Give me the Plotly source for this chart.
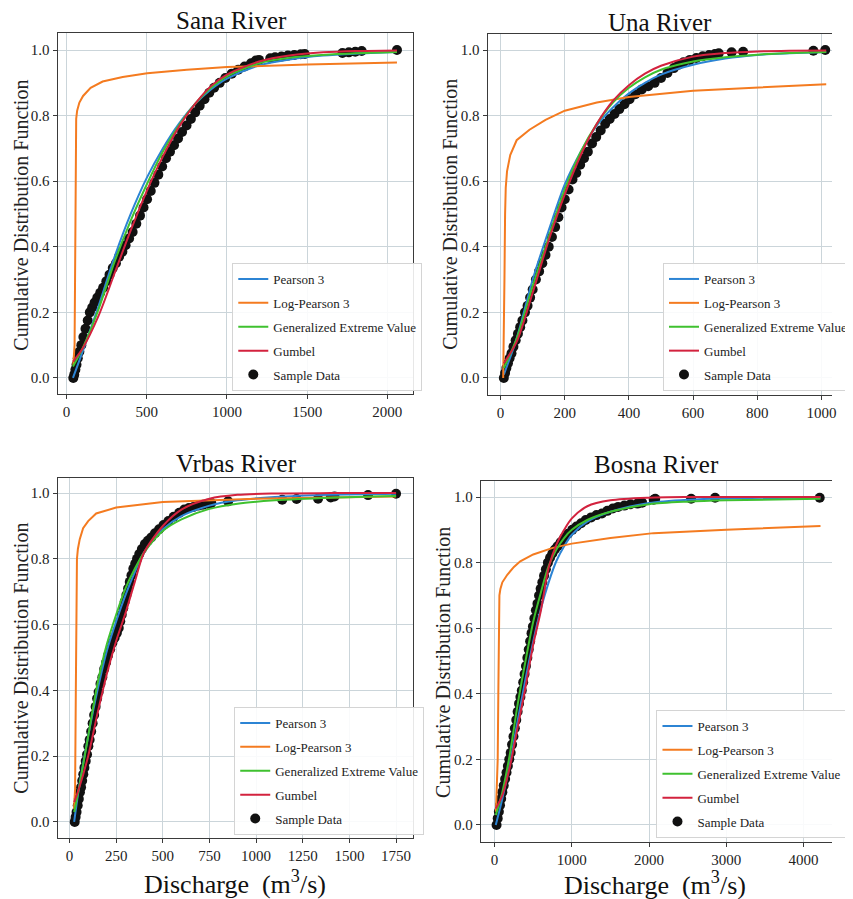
import plotly.graph_objects as go

# ---------------- Sana River ----------------
sana_data_x = [42, 48, 55, 62, 70, 80, 92, 105, 118, 132, 145, 160, 175, 192, 210, 228, 248, 268, 288, 308,
               328, 348, 368, 390, 412, 435, 458, 480, 502, 525, 548, 572, 596, 620, 645, 670, 695, 720, 748, 775,
               802, 830, 860, 890, 920, 955, 990, 1030, 1070, 1110, 1150, 1180, 1200, 1270, 1300, 1340, 1380, 1420,
               1460, 1485, 1720, 1760, 1800, 1840, 2060]
sana_data_y = [0.0, 0.01, 0.025, 0.04, 0.06, 0.08, 0.1, 0.125, 0.15, 0.175, 0.2, 0.215, 0.23, 0.245, 0.26, 0.275,
               0.295, 0.315, 0.335, 0.35, 0.37, 0.385, 0.405, 0.425, 0.445, 0.47, 0.495, 0.52, 0.545, 0.57, 0.595,
               0.62, 0.645, 0.67, 0.69, 0.71, 0.73, 0.75, 0.77, 0.79, 0.81, 0.83, 0.85, 0.87, 0.885, 0.9, 0.915,
               0.928, 0.94, 0.95, 0.96, 0.968, 0.97, 0.975, 0.978, 0.98, 0.983, 0.985, 0.987, 0.988, 0.991, 0.993,
               0.995, 0.997, 1.0]
sana_curve_x = [40, 100, 200, 300, 400, 500, 600, 700, 800, 900, 1000, 1200, 1400, 1600, 1800, 2060]
sana_p3 = [0.0, 0.08, 0.22, 0.37, 0.5, 0.61, 0.7, 0.775, 0.835, 0.88, 0.913, 0.953, 0.972, 0.983, 0.989, 0.994]
sana_gev = [0.035, 0.09, 0.21, 0.355, 0.48, 0.59, 0.69, 0.77, 0.835, 0.885, 0.92, 0.96, 0.977, 0.985, 0.99, 0.994]
sana_gum = [0.05, 0.09, 0.19, 0.32, 0.45, 0.57, 0.675, 0.765, 0.835, 0.89, 0.925, 0.965, 0.984, 0.993, 0.997, 0.999]
sana_lp3_x = [42, 50, 53, 55, 57, 60, 66, 80, 103, 150, 225, 350, 503, 750, 1000, 1500, 2060]
sana_lp3 = [0.04, 0.1, 0.3, 0.6, 0.76, 0.79, 0.815, 0.84, 0.86, 0.885, 0.904, 0.918, 0.929, 0.94, 0.948, 0.956, 0.962]

# ---------------- Una River ----------------
una_data_x = [10, 14, 18, 23, 28, 34, 40, 47, 54, 61, 68, 76, 84, 92, 100, 110, 120, 130, 140, 150, 160, 170, 180,
              190, 200, 212, 224, 236, 248, 260, 272, 285, 298, 312, 326, 340, 355, 370, 386, 402, 420, 440, 460,
              480, 500, 520, 540, 555, 570, 590, 610, 630, 650, 668, 680, 720, 756, 975, 1012]
una_data_y = [0.0, 0.015, 0.03, 0.045, 0.06, 0.075, 0.095, 0.115, 0.135, 0.155, 0.175, 0.2, 0.22, 0.245, 0.27, 0.3,
              0.325, 0.35, 0.375, 0.4, 0.43, 0.46, 0.49, 0.52, 0.545, 0.575, 0.605, 0.625, 0.65, 0.67, 0.69, 0.715,
              0.735, 0.755, 0.775, 0.79, 0.805, 0.82, 0.835, 0.85, 0.865, 0.88, 0.89, 0.9, 0.915, 0.93, 0.945, 0.955,
              0.963, 0.97, 0.976, 0.981, 0.985, 0.988, 0.99, 0.993, 0.995, 0.998, 1.0]
una_curve_x = [10, 50, 100, 150, 200, 250, 300, 350, 400, 450, 500, 600, 700, 800, 900, 1015]
una_p3 = [0.01, 0.12, 0.3, 0.45, 0.59, 0.69, 0.77, 0.825, 0.868, 0.9, 0.925, 0.955, 0.974, 0.985, 0.99, 0.994]
una_gev = [0.03, 0.12, 0.28, 0.43, 0.575, 0.69, 0.775, 0.84, 0.885, 0.917, 0.94, 0.965, 0.978, 0.986, 0.991, 0.994]
una_gum = [0.045, 0.11, 0.26, 0.42, 0.56, 0.68, 0.775, 0.845, 0.893, 0.928, 0.952, 0.98, 0.991, 0.996, 0.998, 0.999]
una_lp3_x = [8, 10, 12, 14, 16, 20, 30, 50, 90, 140, 200, 300, 400, 600, 800, 1015]
una_lp3 = [0.0, 0.1, 0.3, 0.5, 0.58, 0.63, 0.68, 0.725, 0.757, 0.787, 0.815, 0.84, 0.857, 0.876, 0.886, 0.896]

# ---------------- Vrbas River ----------------
vrbas_data_x = [28, 33, 38, 44, 50, 56, 62, 68, 74, 80, 87, 94, 101, 108, 116, 124, 132, 140, 148, 156, 166, 176,
                186, 196, 206, 218, 230, 242, 254, 264, 272, 280, 288, 296, 305, 314, 323, 332, 342, 352, 362, 374,
                388, 404, 420, 438, 458, 480, 504, 530, 558, 588, 615, 640, 665, 690, 715, 740, 760, 850, 1140,
                1217, 1332, 1400, 1420, 1600, 1750]
vrbas_data_y = [0.0, 0.015, 0.03, 0.05, 0.07, 0.09, 0.105, 0.125, 0.145, 0.165, 0.185, 0.205, 0.23, 0.25, 0.275,
                0.3, 0.325, 0.35, 0.375, 0.395, 0.42, 0.44, 0.465, 0.485, 0.505, 0.525, 0.545, 0.56, 0.575, 0.59,
                0.61, 0.63, 0.65, 0.67, 0.69, 0.71, 0.73, 0.75, 0.77, 0.785, 0.8, 0.815, 0.83, 0.845, 0.855, 0.865,
                0.878, 0.89, 0.903, 0.915, 0.928, 0.94, 0.95, 0.955, 0.958, 0.962, 0.965, 0.968, 0.97, 0.975, 0.98,
                0.982, 0.983, 0.987, 0.99, 0.994, 0.998]
vrbas_curve_x = [25, 50, 100, 150, 200, 250, 300, 350, 400, 500, 600, 750, 900, 1100, 1400, 1750]
vrbas_p3 = [0.0, 0.1, 0.26, 0.4, 0.52, 0.61, 0.69, 0.76, 0.82, 0.89, 0.93, 0.962, 0.978, 0.988, 0.995, 0.998]
vrbas_gev = [0.03, 0.1, 0.26, 0.42, 0.54, 0.63, 0.71, 0.77, 0.82, 0.885, 0.92, 0.952, 0.968, 0.978, 0.986, 0.991]
vrbas_gum = [0.06, 0.1, 0.2, 0.33, 0.45, 0.55, 0.635, 0.73, 0.82, 0.9, 0.95, 0.983, 0.995, 0.999, 1.0, 1.0]
vrbas_lp3_x = [24, 30, 34, 37, 40, 45, 55, 73, 100, 143, 250, 500, 750, 1000, 1400, 1750]
vrbas_lp3 = [0.04, 0.1, 0.4, 0.7, 0.8, 0.83, 0.86, 0.893, 0.915, 0.938, 0.956, 0.973, 0.979, 0.983, 0.987, 0.99]

# ---------------- Bosna River ----------------
bosna_data_x = [25, 40, 55, 70, 85, 100, 118, 136, 154, 172, 190, 208, 226, 244, 262, 280, 298, 316, 334, 352, 370,
                388, 406, 424, 442, 460, 478, 496, 515, 535, 555, 575, 596, 618, 640, 664, 690, 718, 748, 780, 815,
                855, 900, 950, 1005, 1060, 1120, 1180, 1250, 1320, 1390, 1460, 1530, 1600, 1680, 1760, 1850, 1910,
                2060, 2080, 2545, 2855, 4210]
bosna_data_y = [0.0, 0.02, 0.04, 0.06, 0.08, 0.1, 0.12, 0.14, 0.16, 0.18, 0.2, 0.22, 0.245, 0.27, 0.295, 0.32, 0.345,
                0.37, 0.39, 0.41, 0.435, 0.46, 0.485, 0.51, 0.535, 0.56, 0.585, 0.605, 0.63, 0.655, 0.675, 0.7, 0.72,
                0.74, 0.76, 0.78, 0.8, 0.815, 0.828, 0.84, 0.85, 0.862, 0.875, 0.888, 0.9, 0.91, 0.92, 0.93, 0.938,
                0.945, 0.95, 0.958, 0.965, 0.97, 0.974, 0.978, 0.98, 0.983, 0.992, 0.995, 0.995, 0.998, 0.998]
bosna_curve_x = [15, 100, 200, 300, 400, 500, 600, 700, 800, 900, 1000, 1200, 1500, 2000, 2500, 3000, 4220]
bosna_p3 = [0.0, 0.08, 0.19, 0.32, 0.445, 0.56, 0.66, 0.74, 0.805, 0.85, 0.885, 0.925, 0.955, 0.982, 0.992, 0.996, 0.999]
bosna_gev = [0.03, 0.1, 0.22, 0.37, 0.5, 0.62, 0.71, 0.79, 0.84, 0.875, 0.9, 0.93, 0.955, 0.978, 0.986, 0.99, 0.995]
bosna_gum = [0.05, 0.09, 0.18, 0.3, 0.42, 0.55, 0.655, 0.785, 0.855, 0.9, 0.935, 0.972, 0.99, 0.998, 1.0, 1.0, 1.0]
bosna_lp3_x = [17, 40, 48, 52, 56, 62, 75, 100, 164, 250, 332, 500, 753, 1000, 1500, 2058, 3000, 4220]
bosna_lp3 = [0.04, 0.2, 0.4, 0.6, 0.68, 0.7, 0.72, 0.74, 0.763, 0.787, 0.804, 0.825, 0.845, 0.858, 0.875, 0.89, 0.9, 0.912]

# ---------------- labels ----------------
river_titles = ["Sana River", "Una River", "Vrbas River", "Bosna River"]
series_names = ["Pearson 3", "Log-Pearson 3", "Generalized Extreme Value", "Gumbel", "Sample Data"]
y_ticks = [0.0, 0.2, 0.4, 0.6, 0.8, 1.0]
x_ticks = [[0, 500, 1000, 1500, 2000],
           [0, 200, 400, 600, 800, 1000],
           [0, 250, 500, 750, 1000, 1250, 1500, 1750],
           [0, 1000, 2000, 3000, 4000]]

COLORS = {"Pearson 3": "#2c84d4", "Log-Pearson 3": "#f47b20", "Generalized Extreme Value": "#3fc12f",
          "Gumbel": "#d3223e"}
FONT = "Liberation Serif"
OFF = 8                       # page body margin
W, H = 853 - OFF, 899 - OFF   # figure size so that it ends at the window edge


def px(sx):
    return (sx - OFF) / W


def py(sy):
    return 1 - (sy - OFF) / H


panels = [
    dict(data=(sana_data_x, sana_data_y), cx=sana_curve_x, p3=sana_p3, gev=sana_gev, gum=sana_gum,
         lx=sana_lp3_x, lp3=sana_lp3,
         dom_x=(59, 423), dom_y=(33, 394), xr=(-55, 2158), yr=(-0.049, 1.052), mirror_y=True,
         title=(237, 20), ylab=(21, 215), leg=(238, 263), xtitle=None),
    dict(data=(una_data_x, una_data_y), cx=una_curve_x, p3=una_p3, gev=una_gev, gum=una_gum,
         lx=una_lp3_x, lp3=una_lp3,
         dom_x=(500, 853), dom_y=(34, 395), xr=(-40, 1033), yr=(-0.052, 1.049), mirror_y=False,
         title=(677, 22), ylab=(461, 214), leg=(680, 263), xtitle=None),
    dict(data=(vrbas_data_x, vrbas_data_y), cx=vrbas_curve_x, p3=vrbas_p3, gev=vrbas_gev, gum=vrbas_gum,
         lx=vrbas_lp3_x, lp3=vrbas_lp3,
         dom_x=(59, 423), dom_y=(478, 838), xr=(-63, 1839), yr=(-0.049, 1.046), mirror_y=True,
         title=(242, 463), ylab=(21, 658), leg=(240, 707), xtitle=(241, 882)),
    dict(data=(bosna_data_x, bosna_data_y), cx=bosna_curve_x, p3=bosna_p3, gev=bosna_gev, gum=bosna_gum,
         lx=bosna_lp3_x, lp3=bosna_lp3,
         dom_x=(493, 853), dom_y=(481, 842), xr=(-177, 4369), yr=(-0.052, 1.049), mirror_y=False,
         title=(673, 464), ylab=(454, 662), leg=(673, 710), xtitle=(672, 883)),
]

fig = go.Figure()
annotations = []
layout = {}

for i, p in enumerate(panels, start=1):
    xa = "x" if i == 1 else f"x{i}"
    ya = "y" if i == 1 else f"y{i}"
    lg = "legend" if i == 1 else f"legend{i}"

    # sample data (under the lines)
    fig.add_trace(go.Scatter(x=p["data"][0], y=p["data"][1], mode="markers", name="Sample Data",
                             marker=dict(color="#111111", size=10), xaxis=xa, yaxis=ya, legend=lg,
                             legendrank=5, legendgroup=f"{i}s"))
    fig.add_trace(go.Scatter(x=p["cx"], y=p["p3"], mode="lines", name="Pearson 3",
                             line=dict(color=COLORS["Pearson 3"], width=2, shape="spline", smoothing=0.8),
                             xaxis=xa, yaxis=ya, legend=lg, legendrank=1, legendgroup=f"{i}a"))
    fig.add_trace(go.Scatter(x=p["lx"], y=p["lp3"], mode="lines", name="Log-Pearson 3",
                             line=dict(color=COLORS["Log-Pearson 3"], width=2),
                             xaxis=xa, yaxis=ya, legend=lg, legendrank=2, legendgroup=f"{i}b"))
    fig.add_trace(go.Scatter(x=p["cx"], y=p["gev"], mode="lines", name="Generalized Extreme Value",
                             line=dict(color=COLORS["Generalized Extreme Value"], width=2, shape="spline",
                                       smoothing=0.8),
                             xaxis=xa, yaxis=ya, legend=lg, legendrank=3, legendgroup=f"{i}c"))
    fig.add_trace(go.Scatter(x=p["cx"], y=p["gum"], mode="lines", name="Gumbel",
                             line=dict(color=COLORS["Gumbel"], width=2, shape="spline", smoothing=0.8),
                             xaxis=xa, yaxis=ya, legend=lg, legendrank=4, legendgroup=f"{i}d"))

    axis_common = dict(showgrid=True, gridcolor="#cbd5da", gridwidth=1, showline=True, linecolor="#3a3a3a",
                       linewidth=1.3, ticks="outside", ticklen=4, tickcolor="#3a3a3a", zeroline=False,
                       tickfont=dict(family=FONT, size=15, color="#222222"))
    layout["xaxis" if i == 1 else f"xaxis{i}"] = dict(
        axis_common, domain=[px(p["dom_x"][0]), min(1.0, px(p["dom_x"][1]))], range=list(p["xr"]),
        tickvals=x_ticks[i - 1], anchor=ya, mirror=True)
    layout["yaxis" if i == 1 else f"yaxis{i}"] = dict(
        axis_common, domain=[py(p["dom_y"][1]), py(p["dom_y"][0])], range=list(p["yr"]),
        tickvals=y_ticks, tickformat=".1f", anchor=xa, mirror=p["mirror_y"])

    layout[lg] = dict(x=px(p["leg"][0]), y=py(p["leg"][1]), xanchor="left", yanchor="top",
                      bgcolor="rgba(255,255,255,0.88)", bordercolor="#d4d4d4", borderwidth=1,
                      font=dict(family=FONT, size=13, color="#222222"), tracegroupgap=4,
                      traceorder="grouped", itemwidth=30)

    annotations.append(dict(text=river_titles[i - 1], x=px(p["title"][0]), y=py(p["title"][1]),
                            xref="paper", yref="paper", showarrow=False, xanchor="center", yanchor="middle",
                            font=dict(family=FONT, size=25, color="#111111")))
    annotations.append(dict(text="Cumulative Distribution Function", x=px(p["ylab"][0]), y=py(p["ylab"][1]),
                            xref="paper", yref="paper", showarrow=False, textangle=-90, xanchor="center",
                            yanchor="middle", font=dict(family=FONT, size=20, color="#222222")))
    if p["xtitle"]:
        annotations.append(dict(text="Discharge\u00a0\u00a0(m<sup>3</sup>/s)", x=px(p["xtitle"][0]),
                                y=py(p["xtitle"][1]), xref="paper", yref="paper", showarrow=False,
                                xanchor="center", yanchor="middle",
                                font=dict(family=FONT, size=26, color="#111111")))

fig.update_layout(width=W, height=H, autosize=False, margin=dict(l=0, r=0, t=0, b=0),
                  paper_bgcolor="white", plot_bgcolor="white", showlegend=True,
                  font=dict(family=FONT, size=15, color="#222222"),
                  annotations=annotations, **layout)

fig.write_html("out.html")
